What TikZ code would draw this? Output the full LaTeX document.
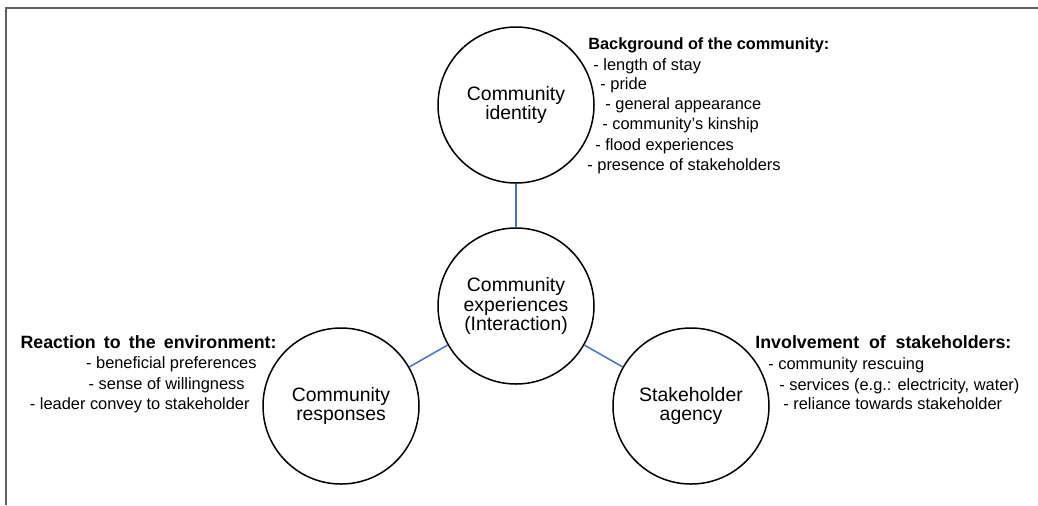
\documentclass[tikz,border=0pt]{standalone}
\usepackage{fontspec}
\setmainfont{Liberation Sans}
\usetikzlibrary{positioning}
\definecolor{linkblue}{RGB}{68,114,196}
\definecolor{framegray}{RGB}{95,95,95}
\tikzset{theme/.style={circle, draw, line width=0.75pt, minimum size=78pt, inner sep=0pt, align=center, font=\fontsize{9.7}{9.6}\selectfont}}
\tikzset{link/.style={draw=linkblue, line width=0.75pt}}
\tikzset{listhead/.style={inner sep=0pt, font=\fontsize{8.15}{9.6}\selectfont\bfseries}}
\tikzset{widehead/.style={listhead, font=\fontsize{8.9}{9.6}\selectfont\bfseries}}
\tikzset{listitem/.style={inner sep=0pt, font=\fontsize{8.2}{9.6}\selectfont}}

\begin{document}
\begin{tikzpicture}[x=0.5pt, y=-0.5pt]
    \useasboundingbox (0, 0) rectangle (1038, 505);
    \draw[framegray, line width=1.25pt] (6, 505) -- (6, 8) -- (1038, 8);
    \node[theme] (exp) at (516, 306) {Community\\experiences\\(Interaction)};
    \node[theme] (ident) at (516, 105) {Community\\identity};
    \node[theme] (resp) at (341, 406) {Community\\responses};
    \node[theme] (agency) at (691, 406) {Stakeholder\\agency};
    \draw[link] (exp) -- (ident);
    \draw[link] (exp) -- (resp);
    \draw[link] (exp) -- (agency);
    % background of the community
    \node[listhead, anchor=base west] (bghead) at (588, 49) {Background of the community:};
    \foreach \x/\y/\txt [count=\i] in {593/70/length of stay, 600/89/pride, 605/109/general appearance, 602/129/community’s kinship, 595/150/flood experiences, 587/170/presence of stakeholders} {
        \node[listitem, anchor=base west] (bg\i) at (\x, \y) {- \txt};
    }
    % reaction to the environment
    \node[widehead, anchor=base east] (rehead) at (277, 348) {\makebox[128pt][s]{Reaction to the environment:}};
    \foreach \x/\y/\txt [count=\i] in {257/368/beneficial preferences, 245/389/sense of willingness, 250/409/leader convey to stakeholder} {
        \node[listitem, anchor=base east] (re\i) at (\x, \y) {- \txt};
    }
    % involvement of stakeholders
    \node[widehead, anchor=base west] (invhead) at (755, 348) {\makebox[128pt][s]{Involvement of stakeholders:}};
    \foreach \x/\y/\txt [count=\i] in {768/369/community rescuing, {779/390/services (e.g.: electricity, water)}, 783/409/reliance towards stakeholder} {
        \node[listitem, anchor=base west] (inv\i) at (\x, \y) {- \txt};
    }
\end{tikzpicture}
\end{document}
